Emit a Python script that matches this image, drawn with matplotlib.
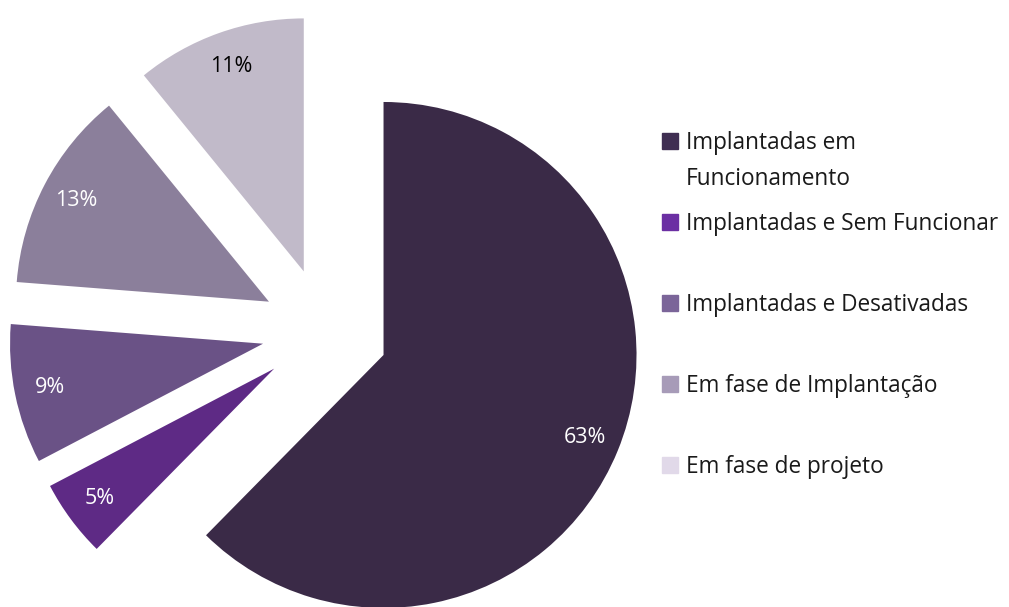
import matplotlib.pyplot as plt
from matplotlib.patches import Rectangle

labels = ['Implantadas em\nFuncionamento', 'Implantadas e Sem Funcionar',
          'Implantadas e Desativadas', 'Em fase de Implantação', 'Em fase de projeto']
values = [63, 5, 9, 13, 11]
pie_colors = ['#3a2a47', '#5e2a85', '#6a5286', '#8b7f9b', '#c1bac9']
legend_colors = ['#3f2e52', '#6b2fa3', '#7b6599', '#a79bb8', '#e1d9e9']
pct_colors = ['white', 'white', 'white', 'white', 'black']

plt.rcParams['font.family'] = ['Open Sans', 'DejaVu Sans']

W, H = 1009, 607
fig = plt.figure(figsize=(W / 100, H / 100), dpi=100)
ax = fig.add_axes([0, 0, 1, 1])

total = sum(values)
# pie centre and radius in pixels
cx, cy, r = 325, 331, 253
wedges, texts, autotexts = ax.pie(values, explode=[0.25] * 5, startangle=90,
                                  counterclock=False, colors=pie_colors,
                                  autopct=lambda p: f'{p * total / 100:.0f}%',
                                  pctdistance=0.86,
                                  wedgeprops={'linewidth': 0},
                                  textprops={'fontsize': 15.5})
for t, c in zip(autotexts, pct_colors):
    t.set_color(c)
ax.set_xlim(-cx / r, (W - cx) / r)
ax.set_ylim(-(H - cy) / r, cy / r)
ax.axis('off')

# legend drawn by hand so entries keep the original uneven spacing
legend_y = [141, 222, 303, 384, 465]
for lab, col, y in zip(labels, legend_colors, legend_y):
    fig.patches.append(Rectangle((662 / W, 1 - (y + 8) / H), 16 / W, 16 / H,
                                 transform=fig.transFigure, color=col))
    fig.text(686 / W, 1 - (y - 10) / H, lab, fontsize=16.3, color='#1a1a1a',
             va='top', ha='left', linespacing=1.64)

fig.savefig('out.png', dpi=100)
